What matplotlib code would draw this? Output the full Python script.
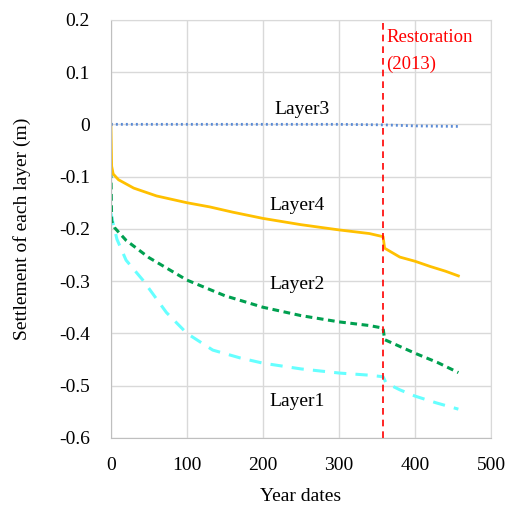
import numpy as np
import matplotlib.pyplot as plt

plt.rcParams['font.family'] = ['Liberation Serif', 'DejaVu Serif']

# Layer4 (orange, solid)
x4 = [0, 1, 3, 10, 30, 60, 100, 130, 160, 200, 250, 300, 340, 358, 360, 380, 400, 420, 440, 457]
y4 = [0, -0.08, -0.095, -0.106, -0.122, -0.137, -0.150, -0.158, -0.168, -0.180, -0.192, -0.202, -0.209, -0.215, -0.237, -0.254, -0.262, -0.272, -0.281, -0.29]

# Layer2 (green, dashed)
x2 = [0, 1, 5, 20, 50, 100, 150, 200, 250, 300, 340, 358, 360, 380, 400, 430, 457]
y2 = [-0.09, -0.185, -0.198, -0.222, -0.255, -0.298, -0.328, -0.350, -0.366, -0.378, -0.385, -0.39, -0.412, -0.425, -0.438, -0.456, -0.475]

# Layer1 (cyan, dashed)
x1 = [0, 3, 8, 20, 42, 73, 100, 134, 170, 200, 250, 301, 340, 358, 362, 380, 400, 428, 457]
y1 = [-0.17, -0.19, -0.22, -0.26, -0.298, -0.36, -0.40, -0.432, -0.447, -0.457, -0.468, -0.476, -0.480, -0.483, -0.495, -0.508, -0.52, -0.533, -0.545]

# Layer3 (blue, dotted)
x3 = [0, 100, 200, 300, 358, 400, 457]
y3 = [0, 0, 0, 0, -0.001, -0.003, -0.004]

restoration_year = 358

fig = plt.figure(figsize=(5.11, 5.08), dpi=100)
ax = fig.add_axes([0.217, 0.138, 0.744, 0.823])

ax.plot(x1, y1, color='#66FFFF', lw=2.2, ls=(0, (4, 3)))
ax.plot(x2, y2, color='#00A050', lw=2.2, ls=(0, (2.2, 1.5)))
ax.plot(x4, y4, color='#FFC000', lw=2)
ax.plot(x3, y3, color='#5B8BD6', lw=2, ls=(0, (0.7, 1.1)))
ax.axvline(restoration_year, color='#FF0000', lw=1.2, ls=(0, (4, 3)))

ax.text(251, 0.028, 'Layer3', fontsize=14, ha='center', va='center')
ax.text(245, -0.156, 'Layer4', fontsize=14, ha='center', va='center')
ax.text(245, -0.307, 'Layer2', fontsize=14, ha='center', va='center')
ax.text(245, -0.53, 'Layer1', fontsize=14, ha='center', va='center')
ax.text(362, 0.167, 'Restoration', fontsize=13.5, color='#FF0000', ha='left', va='center')
ax.text(362, 0.114, '(2013)', fontsize=13.5, color='#FF0000', ha='left', va='center')

ax.set_xlim(0, 500)
ax.set_ylim(-0.6, 0.2)
ax.set_xticks(range(0, 501, 100))
ax.set_yticks(np.arange(-0.6, 0.21, 0.1))
ax.set_yticklabels(['-0.6', '-0.5', '-0.4', '-0.3', '-0.2', '-0.1', '0', '0.1', '0.2'])
ax.tick_params(length=0, labelsize=14)
ax.tick_params(axis='y', pad=15)
ax.tick_params(axis='x', pad=14)
ax.grid(color='#D9D9D9', lw=1)
for s in ax.spines.values():
    s.set_color('#D9D9D9')
ax.spines['left'].set_color('#BFBFBF')
ax.spines['bottom'].set_color('#BFBFBF')
ax.set_axisbelow(True)

ax.set_xlabel('Year dates', fontsize=14, labelpad=10)
ax.set_ylabel('Settlement of each layer (m)', fontsize=14, labelpad=20)

fig.savefig('out.png', dpi=100)
